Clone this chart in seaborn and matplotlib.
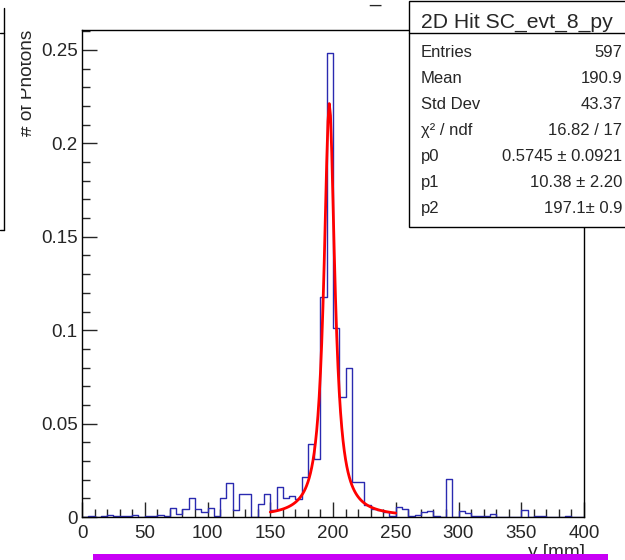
import matplotlib
matplotlib.use("Agg")
import matplotlib.pyplot as plt
from matplotlib.lines import Line2D
from matplotlib.patches import Rectangle
from matplotlib.ticker import MultipleLocator, FuncFormatter
from matplotlib.transforms import Bbox, TransformedBbox
import numpy as np
import pandas as pd
import seaborn as sns

# histogram: 80 bins of 5 mm between 0 and 400
n_bins = 80
bin_range = (0, 400)
bin_values = [
    0.0, 0.0005, 0.0, 0.0007, 0.0011, 0.0004, 0.0005, 0.0004, 0.0013, 0.0,
    0.0007, 0.0004, 0.0013, 0.0006, 0.0046, 0.0016, 0.0045, 0.0103, 0.0041, 0.0025,
    0.0046, 0.0007, 0.0100, 0.0180, 0.0037, 0.0121, 0.0121, 0.0, 0.0068, 0.0125,
    0.0037, 0.0159, 0.0100, 0.0112, 0.0095, 0.0212, 0.0389, 0.0309, 0.1180, 0.2486,
    0.1010, 0.0644, 0.0800, 0.0185, 0.0186, 0.0064, 0.0041, 0.0037, 0.0029, 0.0008,
    0.0055, 0.0041, 0.0007, 0.0010, 0.0029, 0.0034, 0.0007, 0.0, 0.0202, 0.0,
    0.0034, 0.0023, 0.0007, 0.0003, 0.0003, 0.0014, 0.0, 0.0, 0.0, 0.0,
    0.0037, 0.0, 0.0005, 0.0007, 0.0, 0.0, 0.0, 0.0007, 0.0, 0.0,
]
bin_edges = np.linspace(bin_range[0], bin_range[1], n_bins + 1)
bin_centers = (bin_edges[:-1] + bin_edges[1:]) / 2

# fit result shown in the stats box
fit_p0, fit_p1, fit_p2 = 0.5745, 10.38, 197.1
fit_range = (150, 250)

stat_title = "2D Hit SC_evt_8_py"
stat_labels = ["Entries", "Mean", "Std Dev", "χ² / ndf", "p0", "p1", "p2"]
stat_values = ["597", "190.9", "43.37", "16.82 / 17",
               "0.5745 ± 0.0921", "10.38 ± 2.20", "197.1± 0.9"]

W, H = 625, 560


def fx(x):
    return x / W


def fy(y):
    return 1 - y / H


sns.set_style("ticks")
plt.rcParams["font.family"] = ["Liberation Sans", "DejaVu Sans"]

fig = plt.figure(figsize=(W / 100, H / 100), dpi=100)
ax = fig.add_axes([fx(82), fy(517), fx(584) - fx(82), fy(30) - fy(517)])

hist_df = pd.DataFrame({"y": bin_centers, "w": bin_values})
sns.histplot(data=hist_df, x="y", weights="w", bins=n_bins, binrange=bin_range,
             element="step", fill=False, color="#2a2ab0", linewidth=1, ax=ax)

fit_x = np.linspace(fit_range[0], fit_range[1], 101)
fit_y = fit_p0 * fit_p1 / ((fit_x - fit_p2) ** 2 + fit_p1 ** 2 / 4)
sns.lineplot(x=fit_x, y=fit_y, color="red", linewidth=2, ax=ax)

ax.set_xlim(0, 400)
ax.set_ylim(0, 0.2607)
ax.set_xlabel("")
ax.set_ylabel("")
ax.xaxis.set_major_locator(MultipleLocator(50))
ax.xaxis.set_minor_locator(MultipleLocator(10))
ax.yaxis.set_major_locator(MultipleLocator(0.05))
ax.yaxis.set_minor_locator(MultipleLocator(0.01))
ax.yaxis.set_major_formatter(FuncFormatter(lambda v, p: "%g" % round(v, 4)))
ax.tick_params(which="major", direction="in", length=10.8, width=1, labelsize=13.5, pad=3)
ax.tick_params(axis="x", which="major", pad=6)
ax.tick_params(which="minor", direction="in", length=5.8, width=1)
for s in ax.spines.values():
    s.set_visible(True)
    s.set_linewidth(1)
    s.set_color("black")

# axis titles (ROOT style, partly clipped by the canvas)
ylab = fig.text(fx(32.5), fy(30), "# of Photons", rotation=90, rotation_mode="anchor",
                ha="right", va="baseline", fontsize=13.7)
ylab.set_clip_box(TransformedBbox(Bbox([[fx(20.5), 0], [1, 1]]), fig.transFigure))
ylab.set_clip_on(True)
fig.text(fx(585), fy(557), "y [mm]", ha="right", va="baseline", fontsize=13.7)

# clipped piece of the title
fig.text(fx(375), fy(1.5), "_", ha="center", va="baseline", fontsize=14.5)

# stats box
fig.add_artist(Rectangle((fx(409), fy(227)), fx(660) - fx(409), fy(1) - fy(227),
                         transform=fig.transFigure, facecolor="white",
                         edgecolor="black", linewidth=1))
fig.add_artist(Line2D([fx(409), 1], [fy(33), fy(33)], transform=fig.transFigure,
                      color="black", linewidth=1))
fig.text(fx(517), fy(28), stat_title, ha="center", va="baseline", fontsize=15.2, zorder=5)
for i, (lab, val) in enumerate(zip(stat_labels, stat_values)):
    yb = 56.7 + 26.1 * i
    fig.text(fx(421), fy(yb), lab, ha="left", va="baseline", fontsize=12, zorder=5)
    fig.text(fx(622), fy(yb), val, ha="right", va="baseline", fontsize=12, zorder=5)

# neighbouring stats box edge at the left border
for xs, ys in [([fx(4), fx(4)], [fy(8), fy(230)]),
               ([0, fx(4)], [fy(33), fy(33)]),
               ([0, fx(4)], [fy(230), fy(230)])]:
    fig.add_artist(Line2D(xs, ys, transform=fig.transFigure, color="black", linewidth=1))

# magenta bar at the bottom
fig.add_artist(Rectangle((fx(93), 0), fx(608) - fx(93), fy(554),
                         transform=fig.transFigure, facecolor="#c800f5",
                         edgecolor="none", zorder=6))

fig.savefig("out.png", dpi=100)
